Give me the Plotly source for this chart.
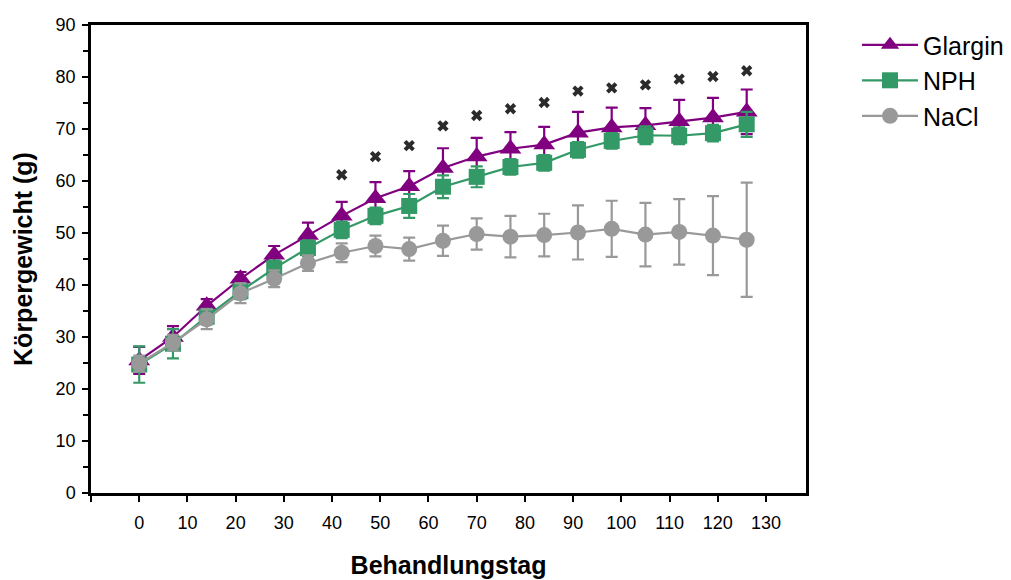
import plotly.graph_objects as go

# Behandlungstage (Tag 0 bis 126, wöchentlich)
days = [0, 7, 14, 21, 28, 35, 42, 49, 56, 63, 70, 77, 84, 91, 98, 105, 112, 119, 126]

# Körpergewicht (g), Mittelwert und Standardabweichung
glargin_mean = [25.5, 30.0, 36.0, 41.2, 45.8, 49.6, 53.3, 56.7, 59.0, 62.5, 64.7, 66.2, 67.0,
                69.3, 70.3, 70.7, 71.5, 72.2, 73.3]
glargin_sd = [2.6, 2.1, 1.3, 1.3, 1.7, 2.4, 2.7, 3.1, 2.9, 3.8, 3.6, 3.2, 3.4,
              4.0, 3.8, 3.3, 4.1, 3.8, 4.3]

nph_mean = [24.7, 28.7, 33.9, 38.8, 43.2, 47.1, 50.6, 53.3, 55.2, 58.9, 60.8, 62.7, 63.5,
            66.0, 67.7, 68.8, 68.7, 69.2, 70.9]
nph_sd = [3.5, 2.8, 1.5, 1.5, 1.5, 1.5, 1.6, 1.6, 2.3, 2.2, 2.0, 1.5, 1.5,
          1.5, 1.5, 1.7, 1.6, 1.6, 2.4]

nacl_mean = [24.9, 28.9, 33.4, 38.4, 41.2, 44.2, 46.2, 47.5, 46.9, 48.5, 49.8, 49.3, 49.6,
             50.1, 50.8, 49.7, 50.2, 49.5, 48.7]
nacl_sd = [1.5, 1.5, 1.9, 1.9, 1.6, 1.5, 1.8, 2.0, 2.2, 2.9, 3.0, 4.0, 4.1,
           5.2, 5.4, 6.1, 6.3, 7.6, 11.0]

# Signifikanzmarkierungen
sig_days = [42, 49, 56, 63, 70, 77, 84, 91, 98, 105, 112, 119, 126]
sig_y = [61.2, 64.7, 66.8, 70.6, 72.6, 73.9, 75.1, 77.3, 77.9, 78.5, 79.6, 80.1, 81.2]

x_ticks = [-10, 0, 10, 20, 30, 40, 50, 60, 70, 80, 90, 100, 110, 120, 130]
x_ticktext = [""] + [str(v) for v in x_ticks[1:]]
y_ticks = [0, 10, 20, 30, 40, 50, 60, 70, 80, 90]

PURPLE = "#800080"
GREEN = "#339966"
GREY = "#999999"
FONT = "Liberation Sans, Arial, sans-serif"

fig = go.Figure()


def add_series(name, mean, sd, color, symbol, size):
    fig.add_trace(go.Scatter(
        x=days, y=mean, name=name, legendgroup=name, mode="lines+markers",
        line=dict(color=color, width=2.2),
        marker=dict(symbol=symbol, size=size, color=color, line=dict(width=0)),
        error_y=dict(type="data", array=sd, visible=True, color=color,
                     thickness=2.2, width=6),
    ))


add_series("Glargin", glargin_mean, glargin_sd, PURPLE, "triangle-up", 19)
add_series("NPH", nph_mean, nph_sd, GREEN, "square", 16)
add_series("NaCl", nacl_mean, nacl_sd, GREY, "circle", 16)

fig.add_trace(go.Scatter(
    x=sig_days, y=sig_y, mode="markers", showlegend=False, name="Signifikanz",
    marker=dict(symbol="x", size=10, color="#2b2b2b", line=dict(width=0)),
))

axis_common = dict(
    showline=True, linecolor="black", linewidth=2.5, mirror=True,
    showgrid=False, zeroline=False, ticks="outside", ticklen=6, tickwidth=2,
    tickcolor="black", tickfont=dict(family=FONT, size=18, color="black"),
    automargin=False,
)

fig.update_xaxes(
    range=[-10, 138.3], tickmode="array", tickvals=x_ticks, ticktext=x_ticktext,
    ticklabelstandoff=6,
    title=dict(text="<b>Behandlungstag</b>", font=dict(family=FONT, size=25, color="black"),
               standoff=25),
    **axis_common,
)
fig.update_yaxes(
    range=[0, 90], tickmode="array", tickvals=y_ticks, ticklabelstandoff=3,
    minor=dict(ticks="outside", dtick=5, tick0=0, ticklen=5, tickwidth=2, tickcolor="black"),
    title=dict(text="<b>Körpergewicht (g)</b>", font=dict(family=FONT, size=25, color="black"),
               standoff=16),
    **axis_common,
)

fig.update_layout(
    width=1011, height=580,
    margin=dict(l=91, r=205, t=25, b=87),
    plot_bgcolor="white", paper_bgcolor="white",
    font=dict(family=FONT, color="black"),
    legend=dict(
        xref="container", yref="container",
        x=0.8477, xanchor="left", y=0.962, yanchor="top",
        font=dict(family=FONT, size=25, color="black"),
        bgcolor="rgba(0,0,0,0)", traceorder="normal",
        itemwidth=56, tracegroupgap=5,
    ),
)

fig.write_html("out.html")
